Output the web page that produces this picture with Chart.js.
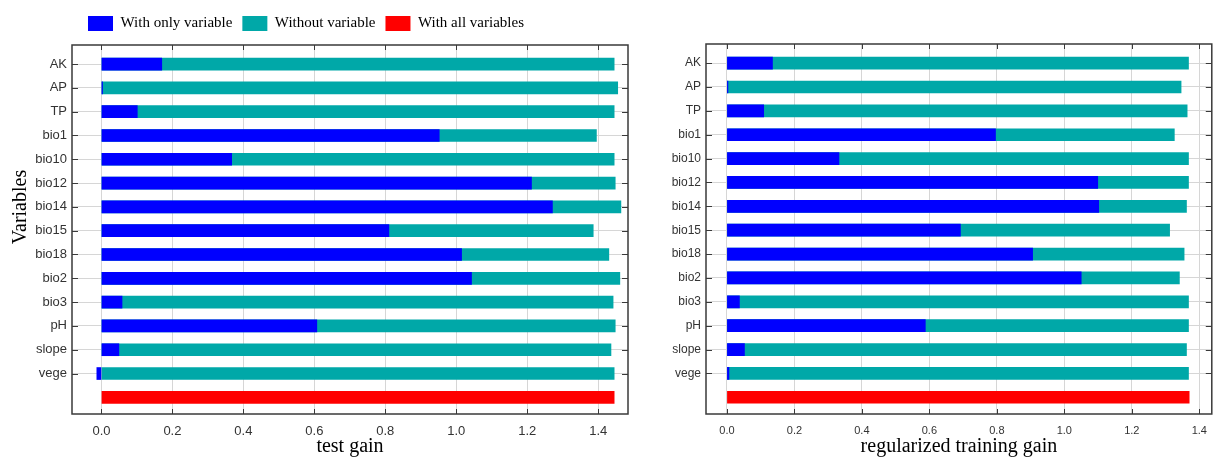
<!DOCTYPE html>
<html>
<head>
<meta charset="UTF-8">
<title>Variable gain</title>
<style>
  body { margin: 0; background: #fff; width: 1217px; height: 459px; position: relative; overflow: hidden; }
  #left { position: absolute; left: -16px; top: 0; }
  #right { position: absolute; left: 640px; top: 0; }
</style>
</head>
<body>
<canvas id="left" width="656" height="459"></canvas>
<canvas id="right" width="577" height="459"></canvas>
<script src="https://cdn.jsdelivr.net/npm/chart.js"></script>
<script>
// variables (last row is the full model, no label)
var variables = ["AK", "AP", "TP", "bio1", "bio10", "bio12", "bio14", "bio15", "bio18", "bio2", "bio3", "pH", "slope", "vege", ""];

// test gain
var testOnly    = [0.170, 0.003, 0.101, 0.952, 0.367, 1.212, 1.271, 0.810, 1.015, 1.043, 0.058, 0.607, 0.049, -0.013, null];
var testWithout = [1.445, 1.455, 1.445, 1.395, 1.445, 1.448, 1.464, 1.386, 1.430, 1.461, 1.442, 1.448, 1.436, 1.445, null];
var testAll     = [null, null, null, null, null, null, null, null, null, null, null, null, null, null, 1.445];

// regularized training gain
var trainOnly    = [0.135, 0.003, 0.109, 0.796, 0.332, 1.099, 1.102, 0.692, 0.906, 1.050, 0.037, 0.588, 0.052, 0.006, null];
var trainWithout = [1.368, 1.346, 1.364, 1.326, 1.368, 1.368, 1.362, 1.312, 1.355, 1.341, 1.368, 1.368, 1.362, 1.368, null];
var trainAll     = [null, null, null, null, null, null, null, null, null, null, null, null, null, null, 1.370];

var seriesNames = ["With only variable", "Without variable", "With all variables"];
var colors = ["#0000ff", "#00a8a8", "#ff0000"];

var sans = "'Liberation Sans', Arial, sans-serif";
var serif = "'Liberation Serif', 'Times New Roman', serif";

// box round the plot with inward ticks, like the original figure
var frame = {
    id: "frame",
    afterDraw: function (chart) {
        var ctx = chart.ctx, a = chart.chartArea, x = chart.scales.x, y = chart.scales.y;
        ctx.save();
        ctx.strokeStyle = "#3a3a3a";
        ctx.lineWidth = 1;
        ctx.beginPath();
        x.ticks.forEach(function (t, i) {
            var px = Math.round(x.getPixelForTick(i)) + 0.5;
            ctx.moveTo(px, a.top); ctx.lineTo(px, a.top + 5);
            ctx.moveTo(px, a.bottom); ctx.lineTo(px, a.bottom - 5);
        });
        y.ticks.forEach(function (t, i) {
            if (!variables[i]) return;
            var py = Math.round(y.getPixelForTick(i)) + 0.5;
            ctx.moveTo(a.left, py); ctx.lineTo(a.left + 6, py);
            ctx.moveTo(a.right, py); ctx.lineTo(a.right - 6, py);
        });
        ctx.stroke();
        ctx.lineWidth = 1.5;
        ctx.strokeRect(a.left, a.top, a.right - a.left, a.bottom - a.top);
        ctx.restore();
    }
};

function makeChart(id, only, without, all, opt) {
    var scales = {
        x: {
            type: "linear",
            min: opt.xmin,
            max: opt.xmax,
            afterFit: function (s) { s.height = 45; },
            border: { display: false },
            grid: { color: "#d6d6d6", lineWidth: 1, drawTicks: false },
            ticks: {
                stepSize: 0.2,
                includeBounds: false,
                padding: 10,
                color: "#333",
                font: { family: sans, size: opt.xTickSize },
                callback: function (v) { return v.toFixed(1); }
            },
            title: {
                display: true,
                text: opt.xTitle,
                color: "#000",
                font: { family: serif, size: 20, lineHeight: 1.2 },
                padding: { top: 0, bottom: 0 }
            }
        },
        y: {
            type: "category",
            afterFit: function (s) { s.width = opt.yWidth; },
            // leave a little more room above the first row and below the last one
            afterBuildTicks: function (s) { s._startValue = -0.8; s._valueRange = 15.5; },
            border: { display: false },
            grid: {
                offset: false,
                drawTicks: false,
                color: function (c) { return variables[c.index] ? "#d6d6d6" : "rgba(0,0,0,0)"; }
            },
            ticks: {
                padding: 5,
                color: "#333",
                autoSkip: false,
                font: { family: sans, size: opt.yTickSize }
            },
            title: {
                display: opt.yTitle !== "",
                text: opt.yTitle,
                color: "#000",
                font: { family: serif, size: 20, lineHeight: 1.2 },
                padding: { top: 25, bottom: 0 }
            }
        }
    };
    if (opt.legend) {
        // empty top axis, only to leave a small gap under the legend
        scales.xTop = {
            type: "linear",
            position: "top",
            afterFit: function (s) { s.height = opt.topGap; },
            grid: { display: false },
            border: { display: false },
            ticks: { display: false }
        };
    }
    return new Chart(document.getElementById(id), {
        type: "bar",
        data: {
            labels: variables,
            datasets: [
                { label: seriesNames[0], data: only, backgroundColor: colors[0], grouped: false, barThickness: 12 },
                { label: seriesNames[1], data: without, backgroundColor: colors[1], grouped: false, barThickness: 12 },
                { label: seriesNames[2], data: all, backgroundColor: colors[2], grouped: false, barThickness: 12 }
            ]
        },
        options: {
            indexAxis: "y",
            responsive: false,
            animation: false,
            layout: { padding: opt.padding },
            scales: scales,
            plugins: {
                tooltip: { enabled: false },
                legend: {
                    display: opt.legend,
                    position: "top",
                    align: "center",
                    labels: {
                        boxWidth: 25,
                        boxHeight: 15,
                        padding: 10,
                        color: "#000",
                        font: { family: serif, size: 15 }
                    }
                }
            }
        },
        plugins: [frame]
    });
}

makeChart("left", testOnly, testWithout, testAll, {
    xmin: -0.083, xmax: 1.484,
    xTitle: "test gain",
    yTitle: "         Variables",
    yWidth: 88,
    xTickSize: 13,
    yTickSize: 13,
    legend: true,
    topGap: 4,
    padding: { left: 0, right: 12, top: 6, bottom: 0 }
});

makeChart("right", trainOnly, trainWithout, trainAll, {
    xmin: -0.062, xmax: 1.437,
    xTitle: "regularized training gain",
    yTitle: "",
    yWidth: 66,
    xTickSize: 11,
    yTickSize: 12,
    legend: false,
    padding: { left: 0, right: 2, top: 44, bottom: 0 }
});
</script>
</body>
</html>
